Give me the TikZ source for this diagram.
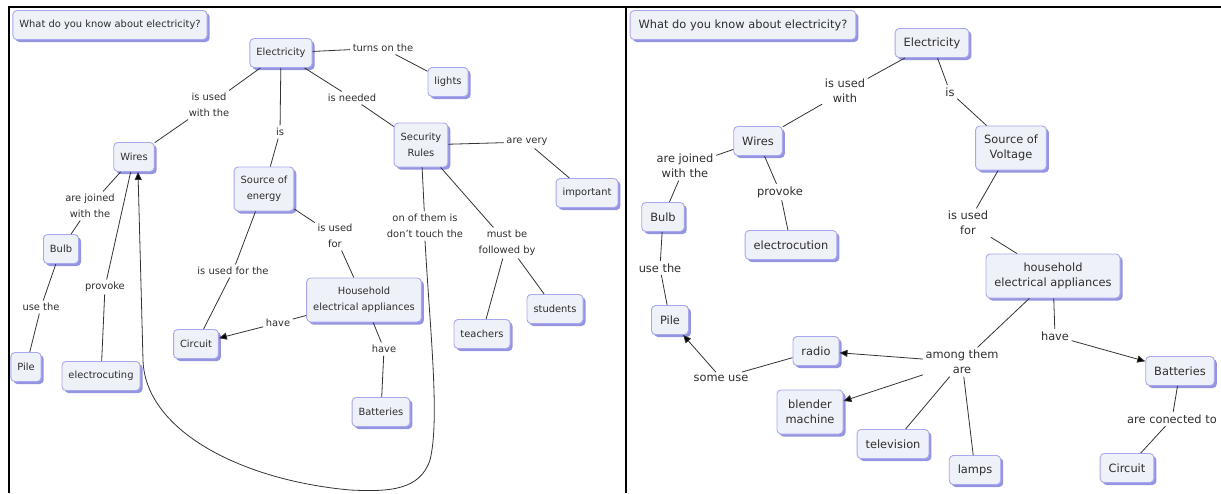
\documentclass[tikz,border=0pt]{standalone}
\usepackage{fontspec}
\setmainfont{DejaVu Sans}
\usetikzlibrary{arrows.meta,shadows}
\definecolor{cbg}{HTML}{EEF1F8}
\definecolor{cbd}{HTML}{A8A8EE}
\definecolor{csh}{HTML}{9494E2}
\definecolor{ctx}{HTML}{2E2E2E}
\definecolor{cln}{HTML}{333333}
\tikzset{
 concept/.style={draw=cbd, fill=cbg, rounded corners=4pt, line width=0.9pt, text=ctx, align=center,
   drop shadow={shadow xshift=2.5pt, shadow yshift=-2.5pt, fill=csh, opacity=1}},
 lab/.style={text=ctx, align=center, inner sep=2.5pt},
 link/.style={draw=cln, line width=0.8pt},
 arr/.style={link, -{Triangle[length=8pt,width=7pt,fill=black]}},
 two/.style={minimum height=44pt},
}
\begin{document}
\begin{tikzpicture}[x=1pt,y=-1pt]
\useasboundingbox (0,0) rectangle (1221,493);
% frames
\draw[line width=2pt] (8,7) -- (1221,7);
\draw[line width=1.6pt] (9,7) -- (9,493);
\draw[line width=2pt] (626,7) -- (626,493);

% ---------------- left panel ----------------
\begin{scope}[every node/.append style={font=\fontsize{9.9pt}{16pt}\selectfont},
  concept/.append style={inner xsep=6.5pt, inner ysep=3pt, minimum height=29pt}]
\node[concept] (tL) at (110,25) {What do you know about electricity?};
\node[concept] (eL) at (281,53) {Electricity};
\node[concept] (lights) at (448,82) {lights};
\node[concept,two] (sec) at (421,145) {Security\\Rules};
\node[concept] (imp) at (587,193) {important};
\node[concept] (wiresL) at (134,157) {Wires};
\node[concept,two] (soe) at (264,189) {Source of\\energy};
\node[concept] (bulbL) at (61,249) {Bulb};
\node[concept] (pileL) at (26,367) {Pile};
\node[concept] (elcting) at (101,376) {electrocuting};
\node[concept,two] (hea) at (364,300) {Household\\electrical appliances};
\node[concept] (batL) at (381,412) {Batteries};
\node[concept] (circL) at (196,344) {Circuit};
\node[concept] (teach) at (482,334) {teachers};
\node[concept] (stud) at (555,309) {students};

\node[lab] (l1) at (383,48) {turns on the};
\node[lab] (l2) at (352,98) {is needed};
\node[lab] (l3) at (527,142) {are very};
\node[lab] (l4) at (209,105) {is used\\with the};
\node[lab] (l5) at (280,132) {is};
\node[lab] (l6) at (90,206) {are joined\\with the};
\node[lab] (l7) at (41,307) {use the};
\node[lab] (l8) at (105,287) {provoke};
\node[lab] (l9) at (425,226) {on of them is\\don't touch the};
\node[lab] (l10) at (507,243) {must be\\followed by};
\node[lab] (l11) at (335,236) {is used\\for};
\node[lab] (l12) at (384,349) {have};
\node[lab] (l13) at (233,271) {is used for the};
\node[lab] (l14) at (278,323) {have};

\draw[link] (eL) -- (l1); \draw[link] (l1) -- (lights);
\draw[link] (eL) -- (l2); \draw[link] (l2) -- (sec);
\draw[link] (sec) -- (l3); \draw[link] (l3) -- (imp);
\draw[link] (eL) -- (l4); \draw[link] (l4) -- (wiresL);
\draw[link] (eL) -- (l5); \draw[link] (l5) -- (soe);
\draw[link] (wiresL) -- (l6); \draw[link] (l6) -- (bulbL);
\draw[link] (bulbL) -- (l7); \draw[link] (l7) -- (pileL);
\draw[link] (wiresL) -- (l8); \draw[link] (l8) -- (elcting);
\draw[link] (sec) -- (l9);
\draw[arr] (l9.south) .. controls (430,330) and (440,420) .. (430,460)
   .. controls (420,490) and (390,492) .. (350,490)
   .. controls (240,480) and (145,430) .. (143,360) -- ([xshift=4pt]wiresL.south);
\draw[link] (sec) -- (l10); \draw[link] (l10) -- (teach); \draw[link] (l10) -- (stud);
\draw[link] (soe) -- (l11); \draw[link] (l11) -- (hea);
\draw[link] (hea) -- (l12); \draw[link] (l12) -- (batL);
\draw[link] (soe) -- (l13); \draw[link] (l13) -- (circL);
\draw[link] (hea) -- (l14); \draw[arr] (l14) -- (circL);
\end{scope}

% ---------------- right panel ----------------
\begin{scope}[every node/.append style={font=\fontsize{11.4pt}{15pt}\selectfont},
  concept/.append style={inner xsep=8.5pt, inner ysep=3pt, minimum height=29pt}]
\node[concept] (tR) at (743,25) {What do you know about electricity?};
\node[concept] (eR) at (932,43) {Electricity};
\node[concept] (wiresR) at (758,141) {Wires};
\node[concept] (bulbR) at (663,217) {Bulb};
\node[concept] (elecR) at (791,245) {electrocution};
\node[concept] (pileR) at (670,320) {Pile};
\node[concept,two] (sov) at (1011,148) {Source of\\Voltage};
\node[concept,two] (heaR) at (1053,276) {household\\electrical appliances};
\node[concept] (radio) at (816,351) {radio};
\node[concept,two] (blender) at (810,412) {blender\\machine};
\node[concept] (tv) at (893,444) {television};
\node[concept] (lamps) at (975,470) {lamps};
\node[concept] (batR) at (1180,371) {Batteries};
\node[concept] (circR) at (1127,468) {Circuit};

\node[lab] (r1) at (845,91) {is used\\with};
\node[lab] (r2) at (950,92) {is};
\node[lab] (r3) at (685,166) {are joined\\with the};
\node[lab] (r4) at (780,192) {provoke};
\node[lab] (r5) at (660,268) {use the};
\node[lab] (r6) at (968,223) {is used\\for};
\node[lab] (r7) at (721,378) {some use};
\node[lab] (r8) at (962,362) {among them\\are};
\node[lab] (r9) at (1055,336) {have};
\node[lab] (r10) at (1172,419) {are conected to};

\draw[link] (eR) -- (r1); \draw[link] (r1) -- (wiresR);
\draw[link] (eR) -- (r2); \draw[link] (r2) -- (sov);
\draw[link] (wiresR) -- (r3); \draw[link] (r3) -- (bulbR);
\draw[link] (wiresR) -- (r4); \draw[link] (r4) -- (elecR);
\draw[link] (bulbR) -- (r5); \draw[link] (r5) -- (pileR);
\draw[link] (sov) -- (r6); \draw[link] (r6) -- (heaR);
\draw[link] (heaR) -- (r8);
\draw[arr] (r8) -- (radio);
\draw[arr] (r8) -- (blender);
\draw[link] (r8) -- (tv);
\draw[link] (r8) -- (lamps);
\draw[link] (radio) -- (r7); \draw[arr] (r7) -- (pileR);
\draw[link] (heaR) -- (r9); \draw[arr] (r9) -- (batR);
\draw[link] (batR) -- (r10); \draw[link] (r10) -- (circR);
\end{scope}
\end{tikzpicture}
\end{document}
